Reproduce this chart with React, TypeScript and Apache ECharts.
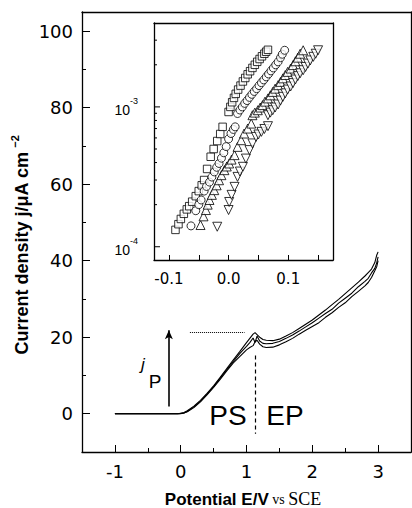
import React, { useEffect, useRef } from "react";
import * as echarts from "echarts";

// ---------- main panel data ----------
const potential = [-1, -0.5, -0.05, 0, 0.05, 0.1, 0.2, 0.3, 0.4, 0.5, 0.6, 0.7, 0.8, 0.9, 1.0, 1.05, 1.1, 1.13, 1.16, 1.2, 1.25, 1.3, 1.4, 1.5, 1.6, 1.7, 1.8, 1.9, 2.0, 2.1, 2.2, 2.3, 2.4, 2.5, 2.6, 2.7, 2.8, 2.85, 2.9, 2.95, 2.98, 3.0];
const currentA = [0, 0, 0, 0.1, 0.3, 0.8, 2.0, 3.5, 5.3, 7.3, 9.5, 11.8, 14.1, 16.3, 18.6, 19.7, 20.8, 21.2, 20.7, 20.0, 19.4, 19.2, 19.1, 19.5, 20.3, 21.2, 22.3, 23.4, 24.5, 25.8, 27.1, 28.5, 29.9, 31.4, 32.9, 34.4, 36.0, 36.9, 37.8, 39.5, 41.5, 42.3];
const currentB = [0, 0, 0, 0.1, 0.2, 0.6, 1.8, 3.3, 5.1, 7.1, 9.3, 11.5, 13.7, 15.8, 17.6, 18.6, 19.8, 18.6, 20.3, 19.0, 18.4, 18.3, 18.4, 18.9, 19.7, 20.6, 21.6, 22.7, 23.8, 25.0, 26.2, 27.3, 28.9, 30.2, 31.5, 33.2, 34.6, 35.4, 36.8, 38.0, 39.5, 41.0];
const currentC = [0, 0, 0, 0, 0.2, 0.5, 1.6, 3.1, 4.9, 6.9, 9.0, 11.2, 13.3, 15.0, 16.7, 17.3, 17.8, 18.8, 19.2, 18.2, 17.5, 17.3, 17.4, 18.0, 18.8, 19.7, 20.8, 21.8, 22.8, 23.8, 25.2, 26.4, 27.8, 29.0, 30.6, 32.0, 33.4, 34.3, 35.6, 37.4, 38.5, 40.0];

const mainXMajorTicks = [-1, 0, 1, 2, 3];
const mainXMinorTicks = [-0.5, 0.5, 1.5, 2.5];
const mainYMajorTicks = [0, 20, 40, 60, 80, 100];
const mainYMinorTicks = [-10, 10, 30, 50, 70, 90];

// annotations (data coordinates)
const peakLevel = 21.3;
const peakLineStart = 0.14;
const peakLineEnd = 0.97;
const boundaryPotential = 1.14;
const boundaryTop = 15.2;
const boundaryBottom = -5.2;
const arrowPotential = -0.18;
const arrowFrom = 1.9;
const arrowTo = 21.8;

// ---------- inset data (E / V, j / A cm^-2) ----------
const squaresE = [-0.089, -0.084, -0.080, -0.075, -0.070, -0.066, -0.061, -0.055, -0.050, -0.045, -0.041, -0.036, -0.030, -0.025, -0.019, -0.014, -0.010,
  0.000, 0.003, 0.006, 0.009, 0.012, 0.016, 0.020, 0.024, 0.028, 0.032, 0.036, 0.040, 0.044, 0.048, 0.052, 0.056, 0.060, 0.063, 0.066];
const squaresJ = [1.32e-4, 1.45e-4, 1.58e-4, 1.72e-4, 1.85e-4, 1.95e-4, 2.1e-4, 2.3e-4, 2.5e-4, 2.75e-4, 3.0e-4, 3.6e-4, 4.4e-4, 5.0e-4, 5.7e-4, 6.4e-4, 7.2e-4,
  9.2e-4, 1.0e-3, 1.08e-3, 1.16e-3, 1.24e-3, 1.33e-3, 1.42e-3, 1.52e-3, 1.61e-3, 1.71e-3, 1.80e-3, 1.90e-3, 2.0e-3, 2.1e-3, 2.2e-3, 2.3e-3, 2.4e-3, 2.48e-3, 2.56e-3];

const circlesE = [-0.063, -0.055, -0.050, -0.046, -0.041, -0.037, -0.032, -0.028, -0.024, -0.020, -0.016, -0.012, -0.008, -0.004, 0.000, 0.004, 0.008, 0.011,
  0.015, 0.019, 0.023, 0.027, 0.031, 0.035, 0.039, 0.043, 0.047, 0.051, 0.055, 0.059, 0.063, 0.067, 0.071, 0.075, 0.079, 0.083, 0.087, 0.090, 0.094];
const circlesJ = [1.41e-4, 1.81e-4, 2.0e-4, 2.16e-4, 2.5e-4, 2.7e-4, 2.9e-4, 3.15e-4, 3.43e-4, 3.7e-4, 3.94e-4, 4.3e-4, 4.7e-4, 5.2e-4, 5.9e-4, 6.45e-4, 6.9e-4, 7.2e-4,
  8.97e-4, 9.5e-4, 1.0e-3, 1.06e-3, 1.11e-3, 1.17e-3, 1.23e-3, 1.29e-3, 1.35e-3, 1.42e-3, 1.49e-3, 1.56e-3, 1.64e-3, 1.72e-3, 1.81e-3, 1.90e-3, 2.0e-3, 2.1e-3, 2.25e-3, 2.38e-3, 2.54e-3];

const upTrianglesE = [-0.047, -0.042, -0.038, -0.035, -0.032, -0.028, -0.024, -0.020, -0.016, -0.012, -0.007, -0.003, 0.001, 0.005, 0.010, 0.015, 0.021, 0.026, 0.032, 0.038,
  0.040, 0.044, 0.049, 0.053, 0.057, 0.061, 0.066, 0.070, 0.074, 0.078, 0.083, 0.087, 0.091, 0.095, 0.099, 0.104, 0.108, 0.112, 0.116, 0.120, 0.125];
const upTrianglesJ = [1.43e-4, 1.65e-4, 1.83e-4, 2.0e-4, 2.16e-4, 2.35e-4, 2.54e-4, 2.75e-4, 2.99e-4, 3.25e-4, 3.53e-4, 3.75e-4, 3.94e-4, 4.2e-4, 4.52e-4, 5.18e-4, 5.78e-4, 6.45e-4, 7.0e-4, 7.6e-4,
  8.72e-4, 9.1e-4, 9.47e-4, 9.9e-4, 1.03e-3, 1.09e-3, 1.15e-3, 1.21e-3, 1.28e-3, 1.35e-3, 1.43e-3, 1.51e-3, 1.6e-3, 1.69e-3, 1.78e-3, 1.88e-3, 1.99e-3, 2.12e-3, 2.25e-3, 2.4e-3, 2.54e-3];

const downTrianglesE = [-0.019, 0.000, 0.001, 0.005, 0.010, 0.015, 0.019, 0.024, 0.029, 0.035, 0.040, 0.046, 0.050, 0.055, 0.060, 0.066,
  0.066, 0.070, 0.074, 0.078, 0.083, 0.087, 0.091, 0.095, 0.099, 0.104, 0.108, 0.112, 0.116, 0.120, 0.125, 0.129, 0.133, 0.137, 0.142, 0.146, 0.150];
const downTrianglesJ = [1.39e-4, 1.83e-4, 2.09e-4, 2.35e-4, 2.68e-4, 3.16e-4, 3.45e-4, 3.73e-4, 4.27e-4, 4.91e-4, 5.48e-4, 6.1e-4, 6.35e-4, 6.63e-4, 6.95e-4, 7.28e-4,
  8.72e-4, 9.1e-4, 9.47e-4, 9.9e-4, 1.04e-3, 1.11e-3, 1.18e-3, 1.25e-3, 1.33e-3, 1.4e-3, 1.48e-3, 1.57e-3, 1.66e-3, 1.74e-3, 1.83e-3, 1.93e-3, 2.04e-3, 2.15e-3, 2.28e-3, 2.4e-3, 2.54e-3];

const insetXLabelTicks = [-0.1, 0, 0.1];
const insetXTicks = [-0.1, -0.05, 0, 0.05, 0.1, 0.15];
const insetYMajorTicks = [1e-4, 1e-3];
const insetYMinorTicks = [2e-4, 3e-4, 4e-4, 5e-4, 6e-4, 7e-4, 8e-4, 9e-4, 2e-3, 3e-3];
const insetYMin = 8.04e-5;
const insetYMax = 3.98e-3;

const SANS = "'Liberation Sans', Arial, sans-serif";
const TICKFONT = "'DejaVu Sans', Verdana, sans-serif";
const SERIF = "'Liberation Serif', 'Times New Roman', serif";

const lg = (v: number) => Math.log10(v);

export default function App() {
  const ref = useRef<HTMLDivElement>(null);
  useEffect(() => {
    if (!ref.current) return;
    const chart = echarts.init(ref.current, null, { renderer: "svg" });

    const mainX: [number, number] = [-1.5, 3.5];
    const mainY: [number, number] = [-10, 105];
    const insetX: [number, number] = [-0.125, 0.175];
    const insetY: [number, number] = [lg(insetYMin), lg(insetYMax)];

    const lineSeries = (vals: number[]) => ({
      type: "line",
      xAxisIndex: 0,
      yAxisIndex: 0,
      data: potential.map((e, i) => [e, vals[i]]),
      showSymbol: false,
      symbol: "none",
      lineStyle: { color: "#000", width: 1.1 },
      silent: true,
      z: 3,
    });

    const scatter = (es: number[], js: number[], symbol: string, rotate = 0, size = 8) => ({
      type: "scatter",
      xAxisIndex: 2,
      yAxisIndex: 2,
      data: es.map((e, i) => [e, lg(js[i])]),
      symbol,
      symbolRotate: rotate,
      symbolSize: size,
      itemStyle: { color: "#fff", borderColor: "#000", borderWidth: 1 },
      silent: true,
      z: 5,
    });

    // inward tick marks drawn as mark lines in data space (length converted from px to data units)
    const tickMarks = (axisIndex: number, segs: any[]) => ({
      type: "line", xAxisIndex: axisIndex, yAxisIndex: axisIndex, data: [], silent: true, z: 6,
      markLine: {
        silent: true, animation: false, symbol: ["none", "none"], label: { show: false },
        lineStyle: { color: "#000", type: "solid", width: 1 },
        emphasis: { disabled: true },
        data: segs,
      },
    });
    const pxY = (range: [number, number], px: number, h: number) => (px / h) * (range[1] - range[0]);
    const mainH = 508 - 12 - 56;
    const mainW = 412 - 82 - 1;
    const insetH = 508 - 23 - 248;
    const xSeg = (v: number, yEdge: number, dy: number) => [{ coord: [v, yEdge] }, { coord: [v, yEdge + dy] }];
    const ySeg = (v: number, xEdge: number, dx: number) => [{ coord: [xEdge, v] }, { coord: [xEdge + dx, v] }];

    const axLine = { show: true, onZero: false, lineStyle: { color: "#000", width: 1.3 } };
    const hidden = { show: false };

    const frameAxis = (gridIndex: number, min: number, max: number, position: string) => ({
      gridIndex, type: "value", min, max, position,
      axisLine: axLine, splitLine: hidden, axisLabel: hidden, axisTick: hidden,
    });

    const insetYTickSeries = (values: number[], length: number) => ({
      type: "custom", xAxisIndex: 2, yAxisIndex: 2, silent: true, clip: false, z: 4,
      data: values.map((v) => [insetX[0], v]),
      renderItem: (_p: any, api: any) => {
        const pt = api.coord([api.value(0), api.value(1)]);
        return { type: "line", shape: { x1: pt[0], y1: pt[1], x2: pt[0] + length, y2: pt[1] }, style: { stroke: "#000", lineWidth: 1 } };
      },
    });

    const option: any = {
      animation: false,
      backgroundColor: "#fff",
      textStyle: { fontFamily: SANS, color: "#000" },
      grid: [
        { left: 82, right: 1, top: 12, bottom: 56 },
        { left: 154, right: 79, top: 23, bottom: 248 },
      ],
      xAxis: [
        {
          gridIndex: 0, type: "value", min: mainX[0], max: mainX[1], position: "bottom",
          axisLine: axLine, splitLine: hidden, axisTick: hidden,
          axisLabel: { customValues: mainXMajorTicks, fontFamily: TICKFONT, fontSize: 18, color: "#000", margin: 10 },
        },
        frameAxis(0, mainX[0], mainX[1], "top"),
        {
          gridIndex: 1, type: "value", min: insetX[0], max: insetX[1], position: "bottom",
          axisLine: axLine, splitLine: hidden, axisTick: hidden,
          axisLabel: {
            customValues: insetXLabelTicks, fontFamily: TICKFONT, fontSize: 15, color: "#000", margin: 11,
            formatter: (v: number) => v.toFixed(1),
          },
        },
        frameAxis(1, insetX[0], insetX[1], "top"),
      ],
      yAxis: [
        {
          gridIndex: 0, type: "value", min: mainY[0], max: mainY[1], position: "left",
          axisLine: axLine, splitLine: hidden, axisTick: hidden,
          axisLabel: { customValues: mainYMajorTicks, fontFamily: TICKFONT, fontSize: 18, color: "#000", margin: 9 },
        },
        frameAxis(0, mainY[0], mainY[1], "right"),
        {
          gridIndex: 1, type: "value", min: insetY[0], max: insetY[1], position: "left",
          axisLine: axLine, splitLine: hidden, axisTick: hidden,
          axisLabel: {
            customValues: insetYMajorTicks.map(lg), margin: 16, fontSize: 14, fontFamily: SANS, color: "#000",
            formatter: (v: number) => `{base|10}{sup|${Math.round(v)}}`,
            rich: {
              base: { fontFamily: SANS, fontSize: 14, color: "#000", verticalAlign: "bottom", lineHeight: 20 },
              sup: { fontFamily: SANS, fontSize: 9, color: "#000", verticalAlign: "top", lineHeight: 20 },
            },
          },
        },
        frameAxis(1, insetY[0], insetY[1], "right"),
      ],
      series: [
        lineSeries(currentA),
        lineSeries(currentB),
        lineSeries(currentC),
        {
          type: "line", xAxisIndex: 0, yAxisIndex: 0, data: [], silent: true,
          markLine: {
            silent: true, animation: false, symbol: ["none", "none"], label: { show: false },
            lineStyle: { color: "#000", type: "dotted", width: 1 },
            data: [[{ coord: [peakLineStart, peakLevel] }, { coord: [peakLineEnd, peakLevel] }]],
          },
        },
        {
          type: "line", xAxisIndex: 0, yAxisIndex: 0, data: [], silent: true,
          markLine: {
            silent: true, animation: false, symbol: ["none", "none"], label: { show: false },
            lineStyle: { color: "#000", type: [4, 3], width: 1.2 },
            data: [[{ coord: [boundaryPotential, boundaryTop] }, { coord: [boundaryPotential, boundaryBottom] }]],
          },
        },
        {
          type: "line", xAxisIndex: 0, yAxisIndex: 0, data: [], silent: true,
          markLine: {
            silent: true, animation: false, symbol: ["none", "arrow"], symbolSize: [6, 9], label: { show: false },
            lineStyle: { color: "#000", type: "solid", width: 1.6 },
            data: [[{ coord: [arrowPotential, arrowFrom] }, { coord: [arrowPotential, arrowTo] }]],
          },
        },
        tickMarks(0, [
          ...mainXMajorTicks.map((v) => xSeg(v, mainY[0], pxY(mainY, 7, mainH))),
          ...mainXMinorTicks.map((v) => xSeg(v, mainY[0], pxY(mainY, 4, mainH))),
          ...mainYMajorTicks.map((v) => ySeg(v, mainX[0], pxY(mainX, 8, mainW))),
          ...mainYMinorTicks.map((v) => ySeg(v, mainX[0], pxY(mainX, 4, mainW))),
        ]),
        tickMarks(2, insetXTicks.map((v) => xSeg(v, insetY[0], pxY(insetY, 5, insetH)))),
        insetYTickSeries(insetYMajorTicks.map(lg), 6),
        insetYTickSeries(insetYMinorTicks.map(lg), 3),
        scatter(squaresE, squaresJ, "rect", 0, 7.5),
        scatter(circlesE, circlesJ, "circle", 0, 8),
        scatter(upTrianglesE, upTrianglesJ, "triangle", 0, 9),
        scatter(downTrianglesE, downTrianglesJ, "triangle", 180, 9),
      ],
      graphic: [
        {
          type: "text", x: 20, y: 245, rotation: Math.PI / 2, silent: true,
          style: {
            text: "{t|Current density j/μA cm}{s|−2}",
            align: "center", verticalAlign: "middle",
            rich: {
              t: { fontFamily: SANS, fontWeight: "bold", fontSize: 18, fill: "#000", lineHeight: 22, verticalAlign: "bottom" },
              s: { fontFamily: SANS, fontWeight: "bold", fontSize: 11, fill: "#000", lineHeight: 22, verticalAlign: "top", padding: [0, 0, 0, 4] },
            },
          },
        },
        {
          type: "text", x: 243, y: 499, silent: true,
          style: {
            text: "{a|Potential E/V}{v| vs }{c|SCE}",
            align: "center", verticalAlign: "middle",
            rich: {
              a: { fontFamily: SANS, fontWeight: "bold", fontSize: 17, fill: "#000" },
              v: { fontFamily: SERIF, fontSize: 14, fill: "#000" },
              c: { fontFamily: SERIF, fontSize: 18, fill: "#000" },
            },
          },
        },
        { type: "text", x: 228, y: 415, silent: true, style: { text: "PS", fontFamily: SANS, fontSize: 28, fill: "#000", align: "center", verticalAlign: "middle" } },
        { type: "text", x: 285, y: 415, silent: true, style: { text: "EP", fontFamily: SANS, fontSize: 28, fill: "#000", align: "center", verticalAlign: "middle" } },
        { type: "text", x: 143, y: 364, silent: true, style: { text: "j", fontFamily: SANS, fontStyle: "italic", fontSize: 17, fill: "#000", align: "center", verticalAlign: "middle" } },
        { type: "text", x: 155, y: 381, silent: true, style: { text: "P", fontFamily: SANS, fontSize: 19, fill: "#000", align: "center", verticalAlign: "middle" } },
      ],
    };

    chart.setOption(option);
    return () => chart.dispose();
  }, []);

  return (
    <div
      ref={ref}
      style={{ position: "fixed", left: 0, top: 0, width: 412, height: 508, background: "#fff" }}
    />
  );
}
